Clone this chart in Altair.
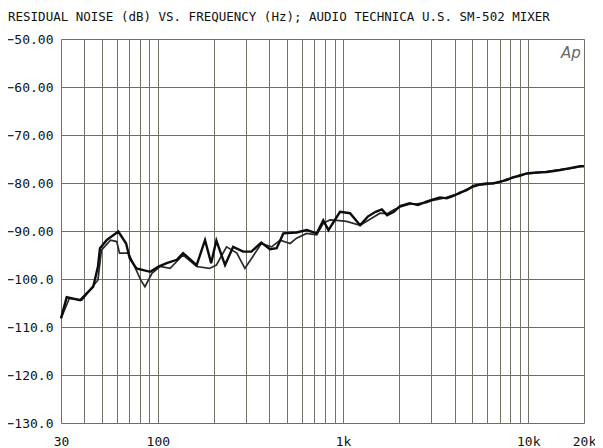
import altair as alt
import pandas as pd

# ---- data ----
freq_a = [30, 32.2, 38.1, 44.8, 47.5, 48.7, 52.9, 61.2, 67.4, 70.5,
          76.6, 91.0, 100.8, 111.6, 126.6, 136.9, 162, 179.8, 194, 207,
          230.6, 255, 289, 320, 362, 403, 438, 476, 561, 636,
          721, 782, 834, 963, 1091, 1236, 1360, 1500, 1620, 1730,
          1880, 2031, 2290, 2540, 2820, 3010, 3340, 3630, 3940, 4280,
          4650, 5050, 5480, 5950, 6460, 7040, 7640, 8300, 9000, 9800,
          11100, 12600, 14900, 16800, 19000, 20000]
db_a = [-108.2, -103.8, -104.4, -101.6, -97.4, -93.6, -91.9, -90.1, -92.6, -95.7,
        -97.8, -98.5, -97.4, -96.7, -96.0, -94.6, -97.1, -91.9, -96.7, -92.0,
        -97.1, -93.3, -94.3, -94.3, -92.4, -93.8, -93.6, -90.5, -90.3, -89.8,
        -90.5, -87.8, -89.8, -86.0, -86.3, -88.8, -87.0, -86.0, -85.5, -86.7,
        -86.0, -84.8, -84.2, -84.6, -83.9, -83.5, -83.0, -83.2, -82.7, -82.0,
        -81.5, -80.6, -80.3, -80.1, -80.1, -79.7, -79.4, -78.8, -78.5, -78.0,
        -77.8, -77.7, -77.3, -76.9, -76.5, -76.5]

freq_b = [30, 33.3, 38.9, 47.5, 49.6, 55.5, 60.0, 62.1, 69.4, 80.8,
          85.2, 92.9, 102.7, 116.4, 136.9, 162, 190, 207, 235, 267,
          295, 326, 362, 411, 458, 518, 561, 636, 721, 782,
          850, 923, 1045, 1236, 1420, 1584, 1730, 1880, 2031, 2290,
          2540, 2820, 3010, 3340, 3630, 3940, 4280, 4650, 5050, 5480,
          5950, 6460, 7040, 7640, 8300, 9000, 9800, 11100, 12600, 14900,
          16800, 19000, 20000]
db_b = [-108.2, -104.0, -104.4, -100.2, -94.0, -91.9, -92.2, -94.6, -94.6, -100.2,
        -101.6, -98.8, -97.4, -97.8, -95.0, -97.4, -97.8, -97.1, -93.3, -94.6,
        -97.8, -95.3, -92.6, -93.3, -91.9, -92.6, -91.5, -90.5, -90.8, -88.4,
        -87.7, -87.8, -88.0, -88.8, -87.4, -86.3, -86.4, -85.6, -85.0, -84.4,
        -84.3, -84.1, -83.7, -83.3, -83.0, -82.5, -82.2, -81.3, -80.8, -80.4,
        -80.3, -80.0, -79.9, -79.2, -78.9, -78.3, -78.1, -77.9, -77.6, -77.2,
        -77.0, -76.6, -76.4]

x_grid = [30, 40, 50, 60, 70, 80, 90,
          100, 200, 300, 400, 500, 600, 700, 800, 900,
          1000, 2000, 3000, 4000, 5000, 6000, 7000, 8000, 9000,
          10000, 20000]
x_label_values = [30, 100, 1000, 10000, 20000]
x_label_texts = ["30", "100", "1k", "10k", "20k"]
y_ticks = [-130, -120, -110, -100, -90, -80, -70, -60, -50]

title_text = "RESIDUAL NOISE (dB) VS. FREQUENCY (Hz); AUDIO TECHNICA U.S. SM-502 MIXER"
logo_text = ["Ap"]
logo_freq = [17000]
logo_db = [-52.9]

FONT = "DejaVu Sans Mono"
GRID = "#707064"

df_a = pd.DataFrame({"f": freq_a, "db": db_a, "i": range(len(freq_a))})
df_b = pd.DataFrame({"f": freq_b, "db": db_b, "i": range(len(freq_b))})
df_logo = pd.DataFrame({"f": logo_freq, "db": logo_db, "t": logo_text})

label_expr = " : ".join(
    f"datum.value == {v} ? '{t}'" for v, t in zip(x_label_values, x_label_texts)
) + " : ''"

x_scale = alt.Scale(type="log", domain=[30, 20000], nice=False)
y_scale = alt.Scale(domain=[-130, -50], nice=False)

x_axis = alt.Axis(values=x_grid, labelExpr=label_expr, title=None, ticks=False,
                  domain=False, labelOverlap=False, labelFlush=False,
                  labelPadding=12, labelFont=FONT, labelFontSize=13,
                  labelColor="#111", grid=True, gridColor=GRID,
                  gridOpacity=1, gridWidth=1)
y_axis = alt.Axis(values=y_ticks,
                  labelExpr="datum.value > -100 ? format(datum.value, '.2f') : format(datum.value, '.1f')",
                  title=None, ticks=False, domain=False, labelOverlap=False,
                  labelFlush=False, labelPadding=8, labelFont=FONT,
                  labelFontSize=13, labelColor="#111", grid=True,
                  gridColor=GRID, gridOpacity=1, gridWidth=1)

base_x = alt.X("f:Q", scale=x_scale, axis=x_axis)
base_y = alt.Y("db:Q", scale=y_scale, axis=y_axis)

line_b = alt.Chart(df_b).mark_line(color="#2a2a2a", strokeWidth=1.7).encode(
    x=base_x, y=base_y, order="i:Q")
line_a = alt.Chart(df_a).mark_line(color="#0d0d0d", strokeWidth=2.4).encode(
    x=alt.X("f:Q", scale=x_scale), y=alt.Y("db:Q", scale=y_scale), order="i:Q")
logo = alt.Chart(df_logo).mark_text(font="DejaVu Sans", fontStyle="italic",
                                    fontSize=15, color="#6a6a6a").encode(
    x=alt.X("f:Q", scale=x_scale), y=alt.Y("db:Q", scale=y_scale), text="t:N")

chart = alt.layer(line_b, line_a, logo).properties(
    width=523, height=384,
    title=alt.TitleParams(text=title_text, anchor="start", frame="group",
                          font=FONT, fontSize=12.5, fontWeight="normal",
                          color="#111", dx=-53, offset=10),
    autosize=alt.AutoSizeParams(type="none"),
    padding={"left": 53, "top": 31, "right": 11, "bottom": 24},
).configure_view(stroke="#4a4a4a", strokeWidth=1.2).configure(background="white")

chart.save("out.html", embed_options={"renderer": "svg", "actions": False})
